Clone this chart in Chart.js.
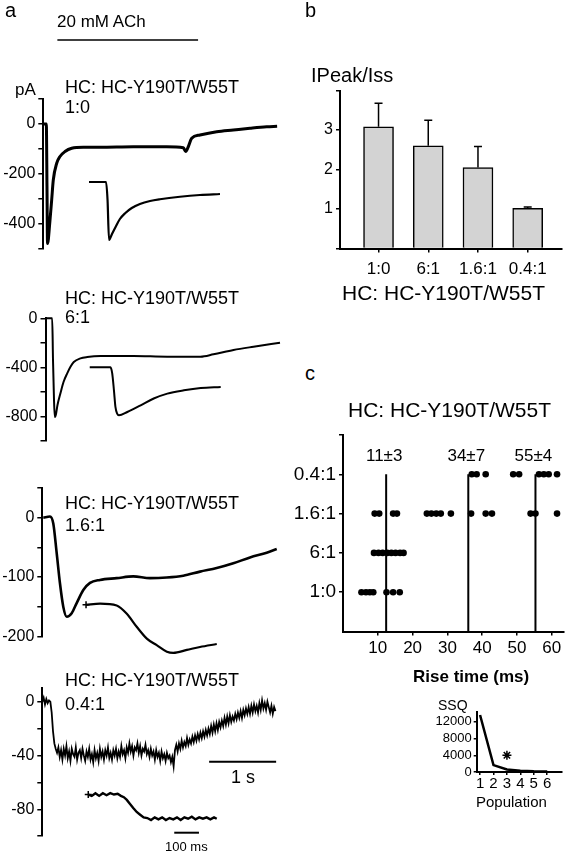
<!DOCTYPE html>
<html>
<head>
<meta charset="utf-8">
<script src="https://cdn.jsdelivr.net/npm/chart.js@4.4.1/dist/chart.umd.min.js"></script>
<style>
  body { margin: 0; background: #fff; }
  #fig { position: relative; width: 568px; height: 852px; overflow: hidden; font-family: "Liberation Sans", Arial, sans-serif; color: #000; }
  canvas { position: absolute; }
  .t { position: absolute; white-space: nowrap; line-height: 20px; }
</style>
</head>
<body>
<div id="fig">
  <canvas id="tr1" style="left:0;top:0" width="290" height="270"></canvas>
  <canvas id="tr2" style="left:0;top:280px" width="290" height="175"></canvas>
  <canvas id="tr3" style="left:0;top:470px" width="290" height="200"></canvas>
  <canvas id="tr4" style="left:0;top:670px" width="290" height="182"></canvas>
  <canvas id="bars" style="left:290px;top:60px" width="278" height="230"></canvas>
  <canvas id="dots" style="left:290px;top:420px" width="278" height="250"></canvas>
  <canvas id="ssq" style="left:420px;top:700px" width="148" height="100"></canvas>

  <div class="t" style="left:5px;top:0;font-size:20px">a</div>
  <div class="t" style="left:57px;top:12px;font-size:17px">20 mM ACh</div>
  <div class="t" style="left:15px;top:80px;font-size:17px">pA</div>
  <div class="t" style="left:65px;top:77px;font-size:18px">HC: HC-Y190T/W55T</div>
  <div class="t" style="left:65px;top:97px;font-size:18px">1:0</div>
  <div class="t" style="left:65px;top:288px;font-size:18px">HC: HC-Y190T/W55T</div>
  <div class="t" style="left:65px;top:307px;font-size:18px">6:1</div>
  <div class="t" style="left:65px;top:493px;font-size:18px">HC: HC-Y190T/W55T</div>
  <div class="t" style="left:65px;top:515px;font-size:18px">1.6:1</div>
  <div class="t" style="left:65px;top:670px;font-size:18px">HC: HC-Y190T/W55T</div>
  <div class="t" style="left:65px;top:694px;font-size:18px">0.4:1</div>
  <div class="t" style="left:231px;top:767px;font-size:18px">1 s</div>
  <div class="t" style="left:165px;top:837px;font-size:13px">100 ms</div>

  <div class="t" style="left:305px;top:0;font-size:20px">b</div>
  <div class="t" style="left:311px;top:65px;font-size:20px">IPeak/Iss</div>
  <div class="t" style="left:342px;top:283px;font-size:21px">HC: HC-Y190T/W55T</div>

  <div class="t" style="left:305px;top:363px;font-size:20px">c</div>
  <div class="t" style="left:348px;top:400px;font-size:21px">HC: HC-Y190T/W55T</div>
  <div class="t" style="left:413px;top:667px;font-size:17px;font-weight:bold">Rise time (ms)</div>
  <div class="t" style="left:438px;top:695px;font-size:14px">SSQ</div>
  <div class="t" style="left:476px;top:792px;font-size:15px">Population</div>
</div>

<script>
// Datos
const ratioLabels = ['1:0', '6:1', '1.6:1', '0.4:1'];

// a: corrientes, tiempo en s, corriente en pA; insertos con tiempo en ms
const trace1T = [0, 0.045, 0.055, 0.063, 0.1, 0.125, 0.149, 0.2, 0.249, 0.324, 0.424, 0.597, 0.846, 1.343, 1.842, 2.09, 2.125, 2.164, 2.215, 2.339, 2.588, 2.836, 3.085, 3.334, 3.49];
const trace1I = [0, 0, -250, -478, -384, -304, -224, -157, -130, -110, -97, -93, -93, -91, -91, -95, -110, -91, -57, -44, -31, -24, -17, -11, -9];
const inset1T = [185, 254, 260, 266, 278, 293, 310, 331, 358, 391, 432, 472, 553, 634, 715];
const inset1I = [-232, -232, -304, -464, -440, -411, -380, -357, -336, -320, -308, -301, -291, -284, -280];
const achT = [0.21, 2.31];
const achLevel = [336, 336];

const trace2T = [0, 0.1, 0.112, 0.127, 0.139, 0.157, 0.179, 0.224, 0.269, 0.324, 0.373, 0.422, 0.522, 0.622, 0.821, 1.313, 1.816, 2.313, 2.507, 2.806, 3.104, 3.5];
const trace2I = [0, 0, -340, -667, -806, -781, -708, -610, -520, -449, -395, -357, -327, -316, -308, -308, -313, -313, -294, -259, -232, -199];
const inset2T = [179, 263, 270, 277, 283, 290, 297, 331, 385, 438, 493, 560, 628, 709];
const inset2I = [-400, -400, -450, -588, -724, -778, -792, -765, -710, -655, -615, -588, -569, -560];

const trace3T = [0.015, 0.115, 0.164, 0.215, 0.264, 0.313, 0.364, 0.439, 0.513, 0.612, 0.712, 0.861, 1.11, 1.358, 1.607, 1.857, 2.104, 2.354, 2.603, 2.851, 3.1, 3.349, 3.499];
const trace3I = [0, 2, -10, -60, -111, -150, -167, -161, -144, -122, -110, -105, -102, -99, -102, -101, -98, -91, -85, -77, -67, -59, -53];
const inset3T = [177, 234, 301, 342, 382, 423, 463, 504, 530, 585, 638, 706];
const inset3I = [-147, -145, -148, -162, -184, -204, -215, -226, -228, -223, -218, -213];

const trace4Dt = 0.02; // muestreo de la traza 4 (s)
const trace4I = [0, 3, -2, 2, -1, 1, 0, -8, -22, -31, -35, -38,
  -34, -41, -36, -43, -35, -40, -33, -42, -37, -44, -35, -39, -41, -34, -43, -38, -36, -42, -35, -40,
  -44, -37, -41, -35, -43, -39, -45, -36, -42, -38, -44, -35, -41, -37, -43, -36, -40, -34, -42, -38,
  -43, -36, -40, -35, -42, -37, -41, -33, -39, -36, -42, -34, -38, -31, -37, -33, -40, -34, -36, -31,
  -38, -33, -40, -35, -37, -32, -39, -36, -41, -35, -40, -37, -43, -36, -41, -38, -44, -37, -42, -39,
  -44, -38, -42, -40, -45, -41, -48, -36, -32,
  -37, -31, -35, -29, -34, -30, -33, -27, -32, -28,
  -31, -26, -30, -25, -29, -24, -28, -23, -27, -22,
  -26, -21, -25, -20, -24, -18, -23, -17, -22, -16,
  -21, -15, -19, -14, -18, -12, -17, -11, -16, -10,
  -15, -11, -14, -9, -13, -8, -12, -7, -12, -6,
  -10, -5, -9, -4, -9, -3, -8, -2, -7, -3,
  -8, -1, -6, 1, -5, -1, -6, 0, -4, -8,
  -3, -9, -4, -7];
const inset4T = [186, 200, 215, 230, 245, 260, 275, 290, 305, 318, 330, 342, 355, 368, 382, 396, 410, 425, 440, 455, 470, 485, 500, 515, 530, 545, 560, 575, 590, 605, 620, 635, 650, 665, 680, 695, 706];
const inset4I = [-69, -70, -68, -70, -68, -69.5, -68, -69, -68.5, -70, -71, -73, -76, -79, -82, -84, -86, -86.5, -88, -86, -87.5, -86, -88, -86.5, -87.5, -86, -88, -86, -87, -85.5, -87.5, -86, -87, -86, -87.5, -86, -87];
const bar1sT = [2.49, 3.49];
const bar1sLevel = [-44.6, -44.6];
const bar100msT = [534, 634];
const bar100msLevel = [-97.4, -97.4];

// b: IPeak/Iss
const peakRatio = [3.08, 2.60, 2.05, 1.02];
const peakErrTop = [3.68, 3.25, 2.58, 1.05];

// c: tiempos de subida (ms) por proporción
const riseRow1 = [5.3, 6.6, 7.7, 8.7, 12.5, 14.4, 16.3];
const riseRow2 = [8.9, 10.2, 11.4, 12.7, 13.9, 15.1, 16.4, 17.4];
const riseRow3 = [9.1, 10.4, 14.4, 15.5, 24.1, 25.4, 26.8, 28.1, 31.0, 36.8, 41.0, 42.8, 53.9, 55.3, 61.5];
const riseRow4 = [37.0, 38.4, 41.0, 48.9, 50.6, 56.3, 57.7, 59.1, 61.5];
const popMeans = [12.4, 36.0, 55.3];
const popLabels = ['11±3', '34±7', '55±4'];

// SSQ
const popN = [1, 2, 3, 4, 5, 6];
const ssqValues = [13600, 1650, 600, 300, 150, 100];
const ssqStar = [3, 4000];

Chart.defaults.font.family = '"Liberation Sans", Arial, sans-serif';
Chart.defaults.color = '#000';

function pts(xs, ys) {
    return xs.map((x, i) => ({ x: x, y: ys[i] }));
}

function axisStyle(size) {
    return {
        border: { color: '#000', width: 2 },
        grid: { drawOnChartArea: false, color: '#000', lineWidth: 1.5, tickLength: 5 },
        ticks: { color: '#000', font: { size: size }, padding: 3 }
    };
}

const baseOpts = {
    responsive: false,
    animation: false,
    devicePixelRatio: 1,
    plugins: { legend: { display: false }, tooltip: { enabled: false } },
    elements: { point: { radius: 0 } }
};

function traceLine(data, width, extra) {
    return Object.assign({ data: data, borderColor: '#000', borderWidth: width, cubicInterpolationMode: 'monotone', clip: false, pointRadius: 0 }, extra || {});
}

// Crea un registro de corriente con su eje en pA
function traceChart(id, o) {
    const c = document.getElementById(id);
    const top = parseFloat(c.style.top) || 0;
    const ax = axisStyle(16);
    return new Chart(c, {
        type: 'line',
        data: { datasets: o.datasets },
        options: Object.assign({}, baseOpts, {
            layout: { padding: { left: 0, right: c.width - o.axisX - 234.5, top: o.areaTop - top, bottom: top + c.height - o.areaBottom } },
            scales: {
                x: { type: 'linear', display: false, min: 0, max: 3.5 },
                xi: { type: 'linear', axis: 'x', display: false, min: 0, max: 949 },
                y: {
                    min: o.min, max: o.max,
                    afterFit: s => { s.width = o.axisX; },
                    afterBuildTicks: s => { s.ticks = o.ticks.map(v => ({ value: v })); },
                    border: ax.border, grid: ax.grid,
                    ticks: Object.assign({}, ax.ticks, { callback: v => o.labels.includes(v) ? String(v) : '' })
                }
            }
        })
    });
}

const startCross = { pointRadius: ctx => ctx.dataIndex === 0 ? 3.5 : 0, pointStyle: 'cross', pointBorderColor: '#000', pointBorderWidth: 1.5 };

traceChart('tr1', {
    axisX: 43.3, areaTop: 99, areaBottom: 249, min: -500, max: 100,
    ticks: [100, 0, -100, -200, -300, -400, -500], labels: [0, -200, -400],
    datasets: [
        traceLine(pts(trace1T, trace1I), 3),
        traceLine(pts(inset1T, inset1I), 2.2, { xAxisID: 'xi' }),
        traceLine(pts(achT, achLevel), 1.5)
    ]
});

traceChart('tr2', {
    axisX: 45.5, areaTop: 318.3, areaBottom: 440.8, min: -1000, max: 0,
    ticks: [0, -200, -400, -600, -800, -1000], labels: [0, -400, -800],
    datasets: [
        traceLine(pts(trace2T, trace2I), 2),
        traceLine(pts(inset2T, inset2I), 2, { xAxisID: 'xi' })
    ]
});

traceChart('tr3', {
    axisX: 42.3, areaTop: 488, areaBottom: 636.3, min: -200, max: 50,
    ticks: [50, 0, -50, -100, -150, -200], labels: [0, -100, -200],
    datasets: [
        traceLine(pts(trace3T, trace3I), 2.6),
        traceLine(pts(inset3T, inset3I), 2.2, Object.assign({ xAxisID: 'xi' }, startCross))
    ]
});

traceChart('tr4', {
    axisX: 42.3, areaTop: 688.3, areaBottom: 836.2, min: -100, max: 10,
    ticks: [0, -20, -40, -60, -80, -100], labels: [0, -40, -80],
    datasets: [
        traceLine(trace4I.map((v, i) => ({ x: i * trace4Dt, y: v })), 1.8, { cubicInterpolationMode: 'default', tension: 0 }),
        traceLine(pts(inset4T, inset4I), 2.4, Object.assign({ xAxisID: 'xi', cubicInterpolationMode: 'default', tension: 0 }, startCross)),
        traceLine(pts(bar1sT, bar1sLevel), 2),
        traceLine(pts(bar100msT, bar100msLevel), 2, { xAxisID: 'xi' })
    ]
});

// Barras de error (solo hacia arriba)
const errorBars = {
    id: 'errorBars',
    afterDatasetsDraw(chart) {
        const { ctx, scales: { x, y } } = chart;
        ctx.save();
        ctx.strokeStyle = '#000';
        ctx.lineWidth = 1.5;
        peakErrTop.forEach((top, i) => {
            const px = x.getPixelForValue(i + 1);
            const py = y.getPixelForValue(top);
            ctx.beginPath();
            ctx.moveTo(px, y.getPixelForValue(peakRatio[i]));
            ctx.lineTo(px, py);
            ctx.moveTo(px - 4, py);
            ctx.lineTo(px + 4, py);
            ctx.stroke();
        });
        ctx.restore();
    }
};

const axB = axisStyle(16);
new Chart(document.getElementById('bars'), {
    type: 'bar',
    data: {
        datasets: [{
            data: pts([1, 2, 3, 4], peakRatio),
            backgroundColor: '#d3d3d3', borderColor: '#000', borderWidth: 1.5, barThickness: 30
        }]
    },
    options: Object.assign({}, baseOpts, {
        layout: { padding: { left: 0, right: 6, top: 30.5, bottom: 11.5 } },
        scales: {
            x: {
                type: 'linear', min: 0.225, max: 4.69, offset: false,
                afterFit: s => { s.height = 30; },
                afterBuildTicks: s => { s.ticks = [1, 2, 3, 4].map(v => ({ value: v })); },
                border: axB.border,
                grid: Object.assign({}, axB.grid, { offset: false, tickLength: 4 }),
                ticks: { color: '#000', font: { size: 17 }, padding: 7, callback: v => ratioLabels[v - 1] }
            },
            y: {
                min: 0, max: 4,
                afterFit: s => { s.width = 50; },
                afterBuildTicks: s => { s.ticks = [0, 1, 2, 3, 4].map(v => ({ value: v })); },
                border: axB.border,
                grid: Object.assign({}, axB.grid, { tickLength: 4 }),
                ticks: Object.assign({}, axB.ticks, { callback: v => (v >= 1 && v <= 3) ? String(v) : '' })
            }
        }
    }),
    plugins: [errorBars]
});

// Etiquetas de media encima de cada población
const meanLabels = {
    id: 'meanLabels',
    afterDatasetsDraw(chart) {
        const { ctx, scales: { x, y } } = chart;
        ctx.save();
        ctx.fillStyle = '#000';
        ctx.font = '17px "Liberation Sans", Arial, sans-serif';
        ctx.textAlign = 'center';
        ctx.textBaseline = 'middle';
        popMeans.forEach((m, i) => {
            ctx.fillText(popLabels[i], x.getPixelForValue(m) - 2, y.getPixelForValue(4.45));
        });
        ctx.restore();
    }
};

const rows = [riseRow1, riseRow2, riseRow3, riseRow4];
const dotSets = rows.map((row, k) => ({
    data: row.map(v => ({ x: v, y: k + 1 })),
    pointRadius: 3.3, pointBackgroundColor: '#000', pointBorderWidth: 0, showLine: false, clip: false
}));
const meanSets = popMeans.map(m => ({
    data: [{ x: m, y: 0 }, { x: m, y: 4 }],
    showLine: true, borderColor: '#000', borderWidth: 2, pointRadius: 0
}));

const axC = axisStyle(19);
new Chart(document.getElementById('dots'), {
    type: 'scatter',
    data: { datasets: meanSets.concat(dotSets) },
    options: Object.assign({}, baseOpts, {
        layout: { padding: { left: 0, right: 2.75, top: 15, bottom: 8.5 } },
        scales: {
            x: {
                type: 'linear', min: 0, max: 63.5,
                afterFit: s => { s.height = 30; },
                afterBuildTicks: s => { s.ticks = [10, 20, 30, 40, 50, 60].map(v => ({ value: v })); },
                border: axC.border,
                grid: Object.assign({}, axC.grid, { tickLength: 4 }),
                ticks: { color: '#000', font: { size: 17 }, padding: 3, maxRotation: 0 }
            },
            y: {
                min: 0, max: 5,
                afterFit: s => { s.width = 53; },
                afterBuildTicks: s => { s.ticks = [1, 2, 3, 4, 5].map(v => ({ value: v })); },
                border: axC.border,
                grid: Object.assign({}, axC.grid, { tickLength: 4 }),
                ticks: Object.assign({}, axC.ticks, { callback: v => ratioLabels[v - 1] || '' })
            }
        }
    }),
    plugins: [meanLabels]
});

// Inserto SSQ frente a número de poblaciones
new Chart(document.getElementById('ssq'), {
    type: 'line',
    data: {
        datasets: [
            { data: pts(popN, ssqValues), borderColor: '#000', borderWidth: 2.5, pointRadius: 0 },
            { data: [{ x: ssqStar[0], y: ssqStar[1] }], showLine: false, pointStyle: 'star', pointRadius: 4.5, pointBorderColor: '#000', pointBorderWidth: 1.5 }
        ]
    },
    options: Object.assign({}, baseOpts, {
        layout: { padding: { left: 0, right: 4, top: 11.7, bottom: 10 } },
        scales: {
            x: {
                type: 'linear', min: 0.75, max: 7.1,
                afterFit: s => { s.height = 18; },
                afterBuildTicks: s => { s.ticks = popN.map(v => ({ value: v })); },
                border: { color: '#000', width: 2 },
                grid: { drawOnChartArea: false, color: '#000', lineWidth: 1.5, tickLength: 3 },
                ticks: { color: '#000', font: { size: 15 }, padding: 0, maxRotation: 0 }
            },
            y: {
                min: 0, max: 14400,
                afterFit: s => { s.width = 56.7; },
                afterBuildTicks: s => { s.ticks = [0, 4000, 8000, 12000].map(v => ({ value: v })); },
                border: { color: '#000', width: 2 },
                grid: { drawOnChartArea: false, color: '#000', lineWidth: 1.5, tickLength: 3 },
                ticks: { color: '#000', font: { size: 13 }, padding: 2, callback: v => String(v) }
            }
        }
    })
});
</script>
</body>
</html>
